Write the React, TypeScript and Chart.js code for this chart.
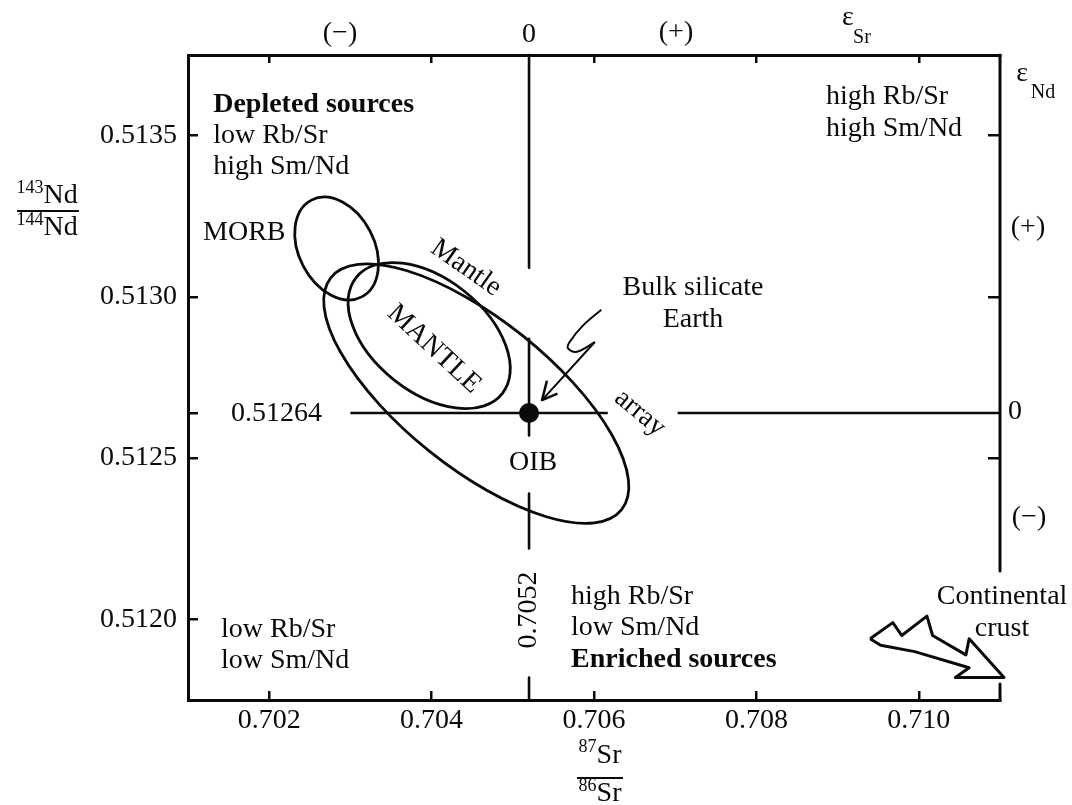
import React, { useEffect, useRef } from 'react';
import { Chart, registerables } from 'chart.js';

Chart.register(...registerables);

const FONT = "'Liberation Serif', 'Times New Roman', serif";
const INK = '#0a0a0a';

// ---- axes ----
const xRange = [0.701, 0.711];
const yRange = [0.51175, 0.51375];
const xTickValues = [0.702, 0.704, 0.706, 0.708, 0.71];
const yTickValues = [0.512, 0.51264, 0.5125, 0.513, 0.5135];
const yRightTickValues = [0.5125, 0.513, 0.5135];

// ---- bulk silicate Earth reference ----
const bseSr = 0.7052;
const bseNd = 0.51264;
// vertical 0.7052 line pieces (Nd from, Nd to)
const bseVerticalFrom = [0.51375, 0.51287, 0.51239, 0.51182];
const bseVerticalTo = [0.51309, 0.51257, 0.51222, 0.51175];
// horizontal 0.51264 line pieces (Sr from, Sr to)
const bseHorizontalFrom = [0.703, 0.70703];
const bseHorizontalTo = [0.70617, 0.711];

// ---- right frame pieces (Nd from, Nd to) ----
const rightFrameFrom = [0.51375, 0.5118];
const rightFrameTo = [0.51215, 0.51175];

// ---- fields (centre, end of long axis, end of short axis) ----
const morbCenter = [0.70283, 0.51315];
const morbMajor = [0.70314, 0.513];
const morbMinor = [0.70325, 0.5132];
const mantleCenter = [0.70397, 0.51288];
const mantleMajor = [0.70487, 0.5127];
const mantleMinor = [0.70439, 0.51302];
const arrayCenter = [0.70455, 0.5127];
const arrayMajor = [0.70634, 0.51234];
const arrayMinor = [0.70512, 0.51288];

// ---- arrow pointing to bulk silicate Earth ----
const squiggleSr = [0.70609, 0.70586, 0.7057, 0.70568, 0.70579, 0.70601];
const squiggleNd = [0.51296, 0.51291, 0.51286, 0.51284, 0.51283, 0.51286];
const shaftSr = [0.70601, 0.70536];
const shaftNd = [0.51286, 0.51268];
const headSr = [0.70555, 0.70536, 0.70542];
const headNd = [0.5127, 0.51268, 0.51274];

// ---- continental crust arrow outline ----
const crustSr = [0.7094, 0.70968, 0.70979, 0.7101, 0.71017, 0.71058, 0.71062, 0.71105, 0.71045, 0.71062, 0.70995, 0.70953, 0.7094];
const crustNd = [0.51194, 0.51199, 0.51195, 0.51201, 0.51195, 0.51189, 0.51194, 0.51182, 0.51182, 0.51185, 0.5119, 0.51192, 0.51194];

type Note = { text: string; x: number; y: number; align?: CanvasTextAlign; bold?: boolean; size?: number; rotate?: number };

const notes: Note[] = [
  { text: 'Depleted sources', x: 0.70131, y: 0.513595, align: 'left', bold: true },
  { text: 'low Rb/Sr', x: 0.70131, y: 0.5135, align: 'left' },
  { text: 'high Sm/Nd', x: 0.70131, y: 0.513403, align: 'left' },
  { text: 'MORB', x: 0.701185, y: 0.513198, align: 'left' },
  { text: 'high Rb/Sr', x: 0.708857, y: 0.51362, align: 'left' },
  { text: 'high Sm/Nd', x: 0.708857, y: 0.513521, align: 'left' },
  { text: 'Bulk silicate', x: 0.707219, y: 0.513028 },
  { text: 'Earth', x: 0.707219, y: 0.512928 },
  { text: 'OIB', x: 0.705249, y: 0.512485 },
  { text: '0.51264', x: 0.70153, y: 0.512637, align: 'left' },
  { text: '0.7052', x: 0.7052, y: 0.512029, rotate: -90 },
  { text: 'high Rb/Sr', x: 0.705717, y: 0.512069, align: 'left' },
  { text: 'low Sm/Nd', x: 0.705717, y: 0.511973, align: 'left' },
  { text: 'Enriched sources', x: 0.705717, y: 0.511874, align: 'left', bold: true },
  { text: 'low Rb/Sr', x: 0.701406, y: 0.511967, align: 'left' },
  { text: 'low Sm/Nd', x: 0.701406, y: 0.511871, align: 'left' },
  { text: 'Continental', x: 0.711025, y: 0.512069 },
  { text: 'crust', x: 0.711025, y: 0.51197 },
  { text: 'Mantle', x: 0.704424, y: 0.51309, rotate: 35 },
  { text: 'MANTLE', x: 0.70403, y: 0.512838, rotate: 43 },
  { text: 'array', x: 0.706567, y: 0.51264, rotate: 40 },
  { text: '(\u2212)', x: 0.702872, y: 0.513815 },
  { text: '0', x: 0.7052, y: 0.513812 },
  { text: '(+)', x: 0.70701, y: 0.513818 },
  { text: '\u03b5', x: 0.709128, y: 0.513866 },
  { text: 'Sr', x: 0.7093, y: 0.513804, size: 20 },
  { text: '\u03b5', x: 0.711271, y: 0.513691 },
  { text: 'Nd', x: 0.71153, y: 0.513632, size: 20 },
  { text: '(+)', x: 0.711345, y: 0.513214 },
  { text: '0', x: 0.711185, y: 0.512643 },
  { text: '(\u2212)', x: 0.711357, y: 0.512317 },
];

type Seg = { t: string; sup?: boolean };
const fractions = [
  { x: 0.699264, yNum: 0.513313, yBar: 0.513266, yDen: 0.513214, barFrom: 0.698894, barTo: 0.699658,
    num: [{ t: '143', sup: true }, { t: 'Nd' }] as Seg[], den: [{ t: '144', sup: true }, { t: 'Nd' }] as Seg[] },
  { x: 0.706074, yNum: 0.511579, yBar: 0.511508, yDen: 0.511459, barFrom: 0.705791, barTo: 0.706357,
    num: [{ t: '87', sup: true }, { t: 'Sr' }] as Seg[], den: [{ t: '86', sup: true }, { t: 'Sr' }] as Seg[] },
];

const ellipses = [
  { c: morbCenter, a: morbMajor, b: morbMinor },
  { c: mantleCenter, a: mantleMajor, b: mantleMinor },
  { c: arrayCenter, a: arrayMajor, b: arrayMinor },
];

const pts = (xs: number[], ys: number[]) => xs.map((v, i) => ({ x: v, y: ys[i] }));

const lineDs = (data: { x: number; y: number }[], width = 2.5, tension = 0) => ({
  data,
  showLine: true,
  borderColor: INK,
  borderWidth: width,
  pointRadius: 0,
  tension,
  fill: false,
  clip: false as any,
  borderCapStyle: 'butt' as const,
  borderJoinStyle: 'round' as const,
});

function drawRich(ctx: CanvasRenderingContext2D, segs: Seg[], cx: number, cy: number) {
  const widths = segs.map((s) => {
    ctx.font = `${s.sup ? 18 : 28}px ${FONT}`;
    return ctx.measureText(s.t).width;
  });
  let x = cx - widths.reduce((p, w) => p + w, 0) / 2;
  segs.forEach((s, i) => {
    ctx.font = `${s.sup ? 18 : 28}px ${FONT}`;
    ctx.textAlign = 'left';
    ctx.textBaseline = 'middle';
    ctx.fillText(s.t, x, s.sup ? cy - 8 : cy);
    x += widths[i];
  });
}

const annotPlugin = {
  id: 'annot',
  afterDatasetsDraw(chart: any) {
    const { ctx } = chart;
    const xs = chart.scales.x;
    const ys = chart.scales.y;
    const px = (v: number) => xs.getPixelForValue(v);
    const py = (v: number) => ys.getPixelForValue(v);
    ctx.save();
    ctx.strokeStyle = INK;
    ctx.fillStyle = INK;
    ctx.lineWidth = 2.8;
    ellipses.forEach((e) => {
      const cx = px(e.c[0]);
      const cy = py(e.c[1]);
      const ax = px(e.a[0]) - cx;
      const ay = py(e.a[1]) - cy;
      const bx = px(e.b[0]) - cx;
      const by = py(e.b[1]) - cy;
      ctx.beginPath();
      ctx.ellipse(cx, cy, Math.hypot(ax, ay), Math.hypot(bx, by), Math.atan2(ay, ax), 0, Math.PI * 2);
      ctx.stroke();
    });
    notes.forEach((n) => {
      ctx.save();
      ctx.font = `${n.bold ? 'bold ' : ''}${n.size || 28}px ${FONT}`;
      ctx.textBaseline = 'middle';
      ctx.textAlign = n.rotate ? 'center' : n.align || 'center';
      ctx.translate(px(n.x), py(n.y));
      if (n.rotate) ctx.rotate((n.rotate * Math.PI) / 180);
      ctx.fillText(n.text, 0, 0);
      ctx.restore();
    });
    fractions.forEach((f) => {
      drawRich(ctx, f.num, px(f.x), py(f.yNum));
      drawRich(ctx, f.den, px(f.x), py(f.yDen));
      ctx.beginPath();
      ctx.lineWidth = 2;
      ctx.moveTo(px(f.barFrom), py(f.yBar));
      ctx.lineTo(px(f.barTo), py(f.yBar));
      ctx.stroke();
    });
    ctx.restore();
  },
};

export default function App() {
  const ref = useRef<HTMLCanvasElement>(null);
  useEffect(() => {
    const datasets: any[] = [];
    rightFrameFrom.forEach((v, i) => datasets.push(lineDs([{ x: xRange[1], y: v }, { x: xRange[1], y: rightFrameTo[i] }], 3)));
    bseVerticalFrom.forEach((v, i) => datasets.push(lineDs([{ x: bseSr, y: v }, { x: bseSr, y: bseVerticalTo[i] }], 2.6)));
    bseHorizontalFrom.forEach((v, i) => datasets.push(lineDs([{ x: v, y: bseNd }, { x: bseHorizontalTo[i], y: bseNd }], 2.6)));
    datasets.push(lineDs(pts(squiggleSr, squiggleNd), 2, 0.4));
    datasets.push(lineDs(pts(shaftSr, shaftNd), 2));
    datasets.push(lineDs(pts(headSr, headNd), 2.5));
    datasets.push(lineDs(pts(crustSr, crustNd), 3));
    datasets.push({
      data: [{ x: bseSr, y: bseNd }],
      showLine: false,
      pointRadius: 10,
      pointBackgroundColor: INK,
      pointBorderWidth: 0,
      clip: false,
    });

    const tickFont = { family: FONT, size: 28 };
    const chart = new Chart(ref.current as HTMLCanvasElement, {
      type: 'scatter',
      data: { datasets },
      plugins: [annotPlugin],
      options: {
        animation: false,
        responsive: false,
        layout: { padding: 0 },
        plugins: { legend: { display: false }, tooltip: { enabled: false } },
        scales: {
          x: {
            type: 'linear',
            position: 'bottom',
            min: xRange[0],
            max: xRange[1],
            afterBuildTicks: (s: any) => { s.ticks = xTickValues.map((v) => ({ value: v })); },
            afterFit: (s: any) => { s.height = 105; },
            ticks: { font: tickFont, color: INK, padding: 13, autoSkip: false, maxRotation: 0, callback: (v: any) => Number(v).toFixed(3) },
            grid: { drawOnChartArea: false, drawTicks: true, tickLength: -9, color: INK, lineWidth: 2.5 },
            border: { display: true, color: INK, width: 3 },
          },
          x2: {
            type: 'linear',
            position: 'top',
            min: xRange[0],
            max: xRange[1],
            afterBuildTicks: (s: any) => { s.ticks = xTickValues.map((v) => ({ value: v })); },
            afterFit: (s: any) => { s.height = 55; },
            ticks: { display: false },
            grid: { drawOnChartArea: false, drawTicks: true, tickLength: -8, color: INK, lineWidth: 2.5 },
            border: { display: true, color: INK, width: 3 },
          },
          y: {
            type: 'linear',
            position: 'left',
            min: yRange[0],
            max: yRange[1],
            afterBuildTicks: (s: any) => { s.ticks = yTickValues.map((v) => ({ value: v })); },
            afterFit: (s: any) => { s.width = 188; },
            ticks: {
              font: tickFont,
              color: INK,
              padding: 21,
              autoSkip: false,
              callback: (v: any) => (Math.abs(Number(v) - bseNd) < 1e-7 ? '' : Number(v).toFixed(4)),
            },
            grid: { drawOnChartArea: false, drawTicks: true, tickLength: -10, color: INK, lineWidth: 2.5 },
            border: { display: true, color: INK, width: 3 },
          },
          y2: {
            type: 'linear',
            position: 'right',
            min: yRange[0],
            max: yRange[1],
            afterBuildTicks: (s: any) => { s.ticks = yRightTickValues.map((v) => ({ value: v })); },
            afterFit: (s: any) => { s.width = 72; },
            ticks: { display: false },
            grid: { drawOnChartArea: false, drawTicks: true, tickLength: -12, color: INK, lineWidth: 2.5 },
            border: { display: false },
          },
        },
      } as any,
    });
    return () => chart.destroy();
  }, []);

  return (
    <div style={{ position: 'fixed', left: 0, top: 0, width: 1072, height: 805, background: '#ffffff' }}>
      <canvas ref={ref} width={1072} height={805} style={{ display: 'block', width: 1072, height: 805 }} />
    </div>
  );
}
